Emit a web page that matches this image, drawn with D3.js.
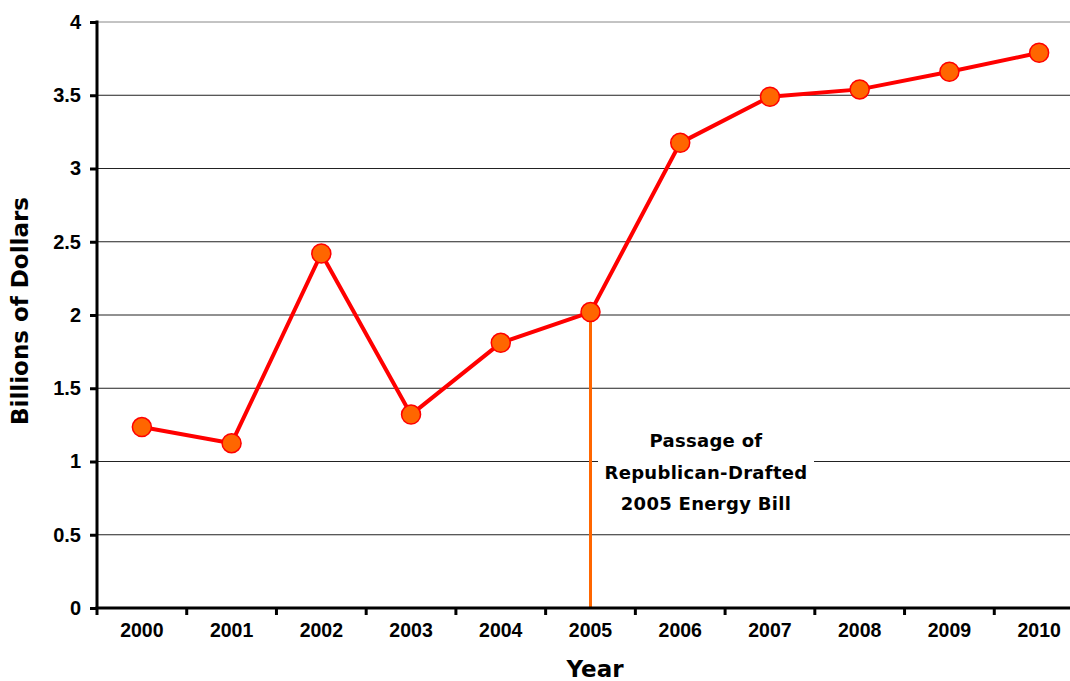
<!DOCTYPE html>
<html>
  <head>
    <style>
      body { margin: 0; background: #fff; }
      svg { display: block; }
      .tick text { font-family: "Liberation Sans", Arial, sans-serif; font-weight: bold; fill: #000; }
      .title { font-family: "DejaVu Sans", sans-serif; font-weight: bold; fill: #000; }
    </style>
    <script src="https://d3js.org/d3.v7.min.js"></script>
  </head>
  <body>
    <div id="chart"></div>
    <script>
      var years = ["2000", "2001", "2002", "2003", "2004", "2005", "2006", "2007", "2008", "2009", "2010"];
      var values = [1.235, 1.125, 2.42, 1.32, 1.81, 2.02, 3.175, 3.49, 3.54, 3.66, 3.79];
      var yTicks = [0, 0.5, 1, 1.5, 2, 2.5, 3, 3.5, 4];
      var noteLines = ["Passage of", "Republican-Drafted", "2005 Energy Bill"];
      var noteYear = "2005";

      var width = 1070, height = 681;
      var mLeft = 97, mTop = 22, mBottom = 608, mRight = 1084;

      var svg = d3.select("#chart").append("svg")
        .attr("width", width)
        .attr("height", height);

      var x = d3.scaleBand().domain(years).range([mLeft, mRight]);
      var y = d3.scaleLinear().domain([0, 4]).range([mBottom, mTop]);

      // gridlines
      svg.append("g").selectAll("line")
        .data(yTicks.filter(function(d) { return d > 0; }))
        .enter().append("line")
        .attr("x1", mLeft).attr("x2", width)
        .attr("y1", function(d) { return y(d); })
        .attr("y2", function(d) { return y(d); })
        .attr("stroke", function(d) { return d == 4 ? "#888" : "#222"; })
        .attr("stroke-width", 1);

      // annotation box + text
      var cx = x(noteYear) + x.bandwidth() / 2;
      var noteX = 706;
      svg.append("rect")
        .attr("x", 598).attr("y", y(1.0) - 8)
        .attr("width", 216).attr("height", 16)
        .attr("fill", "#fff");
      svg.append("g").selectAll("text")
        .data(noteLines)
        .enter().append("text")
        .attr("class", "title")
        .attr("x", noteX)
        .attr("y", function(d, i) { return 447 + i * 31.5; })
        .attr("text-anchor", "middle")
        .style("font-size", "18px")
        .style("letter-spacing", "0.3px")
        .text(function(d) { return d; });

      // vertical marker line
      svg.append("line")
        .attr("x1", cx).attr("x2", cx)
        .attr("y1", y(values[years.indexOf(noteYear)]))
        .attr("y2", y(0))
        .attr("stroke", "#FF6600")
        .attr("stroke-width", 3);

      // axes
      var yAxis = svg.append("g")
        .attr("transform", "translate(" + mLeft + ",0)")
        .call(d3.axisLeft(y).tickValues(yTicks).tickSize(7).tickPadding(9).tickFormat(d3.format("")));
      yAxis.selectAll("text").style("font-size", "20px");

      var xAxis = svg.append("g")
        .attr("transform", "translate(0," + mBottom + ")")
        .call(d3.axisBottom(x).tickSize(0).tickPadding(15));
      xAxis.selectAll("text").style("font-size", "19.5px");
      xAxis.select(".domain").remove();
      // ticks between categories
      xAxis.selectAll(".sep")
        .data(years)
        .enter().append("line")
        .attr("x1", function(d) { return x(d); })
        .attr("x2", function(d) { return x(d); })
        .attr("y1", 0).attr("y2", 7)
        .attr("stroke", "#000").attr("stroke-width", 3);

      svg.selectAll(".domain").attr("stroke-width", 3);
      yAxis.selectAll(".tick line").attr("stroke-width", 3);
      yAxis.select(".domain").attr("d", "M0," + (mTop - 1.5) + "V" + mBottom);

      svg.append("line")
        .attr("x1", mLeft - 1.5).attr("x2", width)
        .attr("y1", mBottom).attr("y2", mBottom)
        .attr("stroke", "#000").attr("stroke-width", 3);

      // data line
      var line = d3.line()
        .x(function(d, i) { return x(years[i]) + x.bandwidth() / 2; })
        .y(function(d) { return y(d); });
      svg.append("path")
        .datum(values)
        .attr("d", line)
        .attr("fill", "none")
        .attr("stroke", "#FF0000")
        .attr("stroke-width", 4);

      svg.append("g").selectAll("circle")
        .data(values)
        .enter().append("circle")
        .attr("cx", function(d, i) { return x(years[i]) + x.bandwidth() / 2; })
        .attr("cy", function(d) { return y(d); })
        .attr("r", 9.5)
        .attr("fill", "#FF6600")
        .attr("stroke", "#FF0000")
        .attr("stroke-width", 1.5);

      // axis titles
      svg.append("text")
        .attr("class", "title")
        .attr("x", 595).attr("y", 677)
        .attr("text-anchor", "middle")
        .style("font-size", "23px")
        .text("Year");
      svg.append("text")
        .attr("class", "title")
        .attr("transform", "translate(28,311) rotate(-90)")
        .attr("text-anchor", "middle")
        .style("font-size", "23px")
        .text("Billions of Dollars");
    </script>
  </body>
</html>
